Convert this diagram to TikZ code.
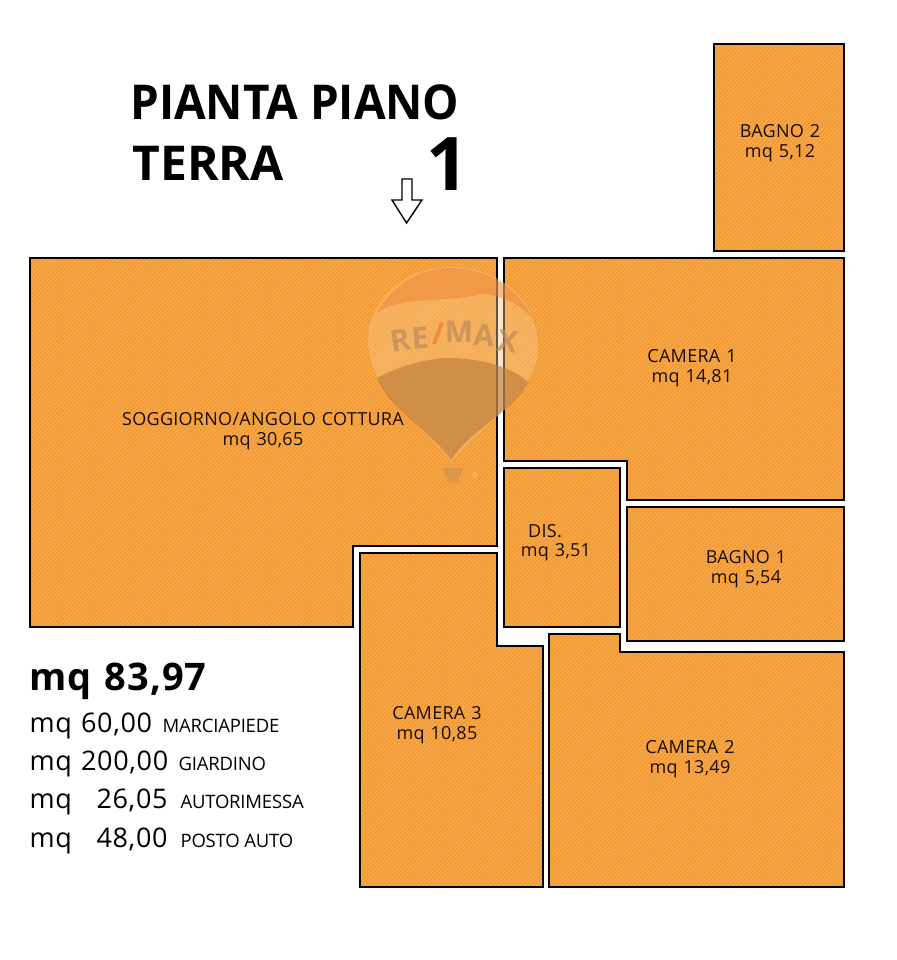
\documentclass[tikz,border=0pt]{standalone}
\usepackage{fontspec}
\setmainfont{Open Sans}
\newfontfamily\labelfont[LetterSpace=1.5,WordSpace=1.2]{Open Sans}
\newfontfamily\listfont[LetterSpace=2.5,WordSpace=1.2]{Open Sans}
\newfontfamily\tagfont[LetterSpace=-1]{Open Sans}
\usetikzlibrary{patterns.meta}
\definecolor{roomorange}{HTML}{F29A33}
\definecolor{roomhatch}{HTML}{F9AE55}
\definecolor{capcol}{HTML}{EE7C2B}
\definecolor{envcol}{HTML}{F9C78A}
\definecolor{lowcol}{HTML}{B97A38}
\definecolor{logocol}{HTML}{BE8A5A}
\tikzset{
  room/.style = {draw=black, line width=2pt, preaction={fill=roomorange},
    preaction={pattern={Lines[angle=45,distance=3pt,line width=0.9pt]}, pattern color=roomhatch}},
  roomlabel/.style = {font=\labelfont\fontsize{18}{20}\selectfont, align=center, text=black!90!orange},
  listmq/.style = {font=\listfont\fontsize{27}{30}\selectfont, anchor=base west},
  listtag/.style = {font=\tagfont\fontsize{18.5}{22}\selectfont, anchor=base west},
  title/.style = {font=\bfseries\fontsize{48}{52}\selectfont, anchor=base west},
  logoletter/.style = {font=\bfseries\fontsize{30}{32}\selectfont, text=logocol, opacity=0.7, inner sep=0pt}
}
\begin{document}
\begin{tikzpicture}[x=1pt, y=-1pt]
\useasboundingbox (0,0) rectangle (896,960);
% rooms
\draw[room] (30,258) -- (497,258) -- (497,546) -- (353,546) -- (353,627) -- (30,627) -- cycle;
\draw[room] (504,258) -- (844,258) -- (844,500) -- (627,500) -- (627,461) -- (504,461) -- cycle;
\draw[room] (714,44) rectangle (844,251);
\draw[room] (504,468) rectangle (620,627);
\draw[room] (627,507) rectangle (844,641);
\draw[room] (360,553) -- (497,553) -- (497,646) -- (543,646) -- (543,887) -- (360,887) -- cycle;
\draw[room] (549,634) -- (620,634) -- (620,652) -- (844,652) -- (844,887) -- (549,887) -- cycle;
% balloon
\begin{scope}[opacity=0.42]
\fill[envcol] (450,267) .. controls (500,267) and (538,300) .. (538,347)
  .. controls (538,395) and (480,425) .. (451,462)
  .. controls (425,425) and (368,395) .. (368,340)
  .. controls (368,300) and (405,267) .. (450,267) -- cycle;
\fill[capcol] (377,313) .. controls (392,285) and (420,268) .. (450,268)
  .. controls (485,268) and (517,285) .. (532,318)
  .. controls (520,305) and (505,296) .. (483,294)
  .. controls (465,298) and (450,299) .. (430,300)
  .. controls (410,301) and (390,303) .. (377,313) -- cycle;
\end{scope}
\begin{scope}[opacity=0.6]
\fill[lowcol] (377,378) .. controls (395,368) and (425,358) .. (450,358)
  .. controls (475,358) and (510,365) .. (528,382)
  .. controls (515,410) and (470,430) .. (451,460)
  .. controls (430,430) and (390,410) .. (377,378) -- cycle;
\fill[lowcol!70!envcol] (443,468) -- (463,468) -- (458,482) -- (448,482) -- cycle;
\end{scope}
\node[logoletter, rotate=10] (logoR) at (400,340) {R};
\node[logoletter, rotate=5] (logoE) at (420,338) {E};
\node[logoletter, text=capcol] (logoS) at (438,334) {/};
\node[logoletter] (logoM) at (459,332) {M};
\node[logoletter, rotate=-4] (logoA) at (484,335) {A};
\node[logoletter, rotate=-8] (logoX) at (508,341) {X};
\node[font=\fontsize{8}{8}\selectfont, text=envcol] (logoreg) at (475,476) {®};
% room labels
\begin{scope}[every node/.style = {roomlabel}]
\node (soggiorno) at (263,431) {SOGGIORNO/ANGOLO COTTURA\\mq 30,65};
\node (camera1) at (692,368) {CAMERA 1\\mq 14,81};
\node (bagno2) at (780,143) {BAGNO 2\\mq 5,12};
\node (dis) at (545,531) {DIS.};
\node (dismq) at (556,552) {mq 3,51};
\node (bagno1) at (746,569) {BAGNO 1\\mq 5,54};
\node (camera3) at (437,725) {CAMERA 3\\mq 10,85};
\node (camera2) at (690,759) {CAMERA 2\\mq 13,49};
\end{scope}
% title
\node[title, xscale=0.955] (pianta) at (127,120) {PIANTA PIANO};
\node[title] (terra) at (129,181) {TERRA};
\node[title, font=\bfseries\fontsize{74}{76}\selectfont] (uno) at (423,190) {1};
\coordinate (arrowtip) at (406.5,223);
\draw[line width=1.4pt, fill=white] (arrowtip) -- (392,200) -- (402,200) -- (402,179) -- (412,179) -- (412,200) -- (422,200) -- cycle;
% totals
\node[font=\listfont\bfseries\fontsize{38}{40}\selectfont, anchor=base west] (total) at (26,690) {mq 83,97};
\node[listmq] (mqa) at (26,732) {mq 60,00};
\node[listtag] (taga) at (159,732) {MARCIAPIEDE};
\node[listmq] (mqb) at (26,770) {mq 200,00};
\node[listtag] (tagb) at (175,770) {GIARDINO};
\node[listmq] (mqc) at (26,808) {mq};
\node[listmq] (numc) at (93,808) {26,05};
\node[listtag] (tagc) at (177,808) {AUTORIMESSA};
\node[listmq] (mqd) at (26,847) {mq};
\node[listmq] (numd) at (93,847) {48,00};
\node[listtag] (tagd) at (177,847) {POSTO AUTO};
\end{tikzpicture}
\end{document}
